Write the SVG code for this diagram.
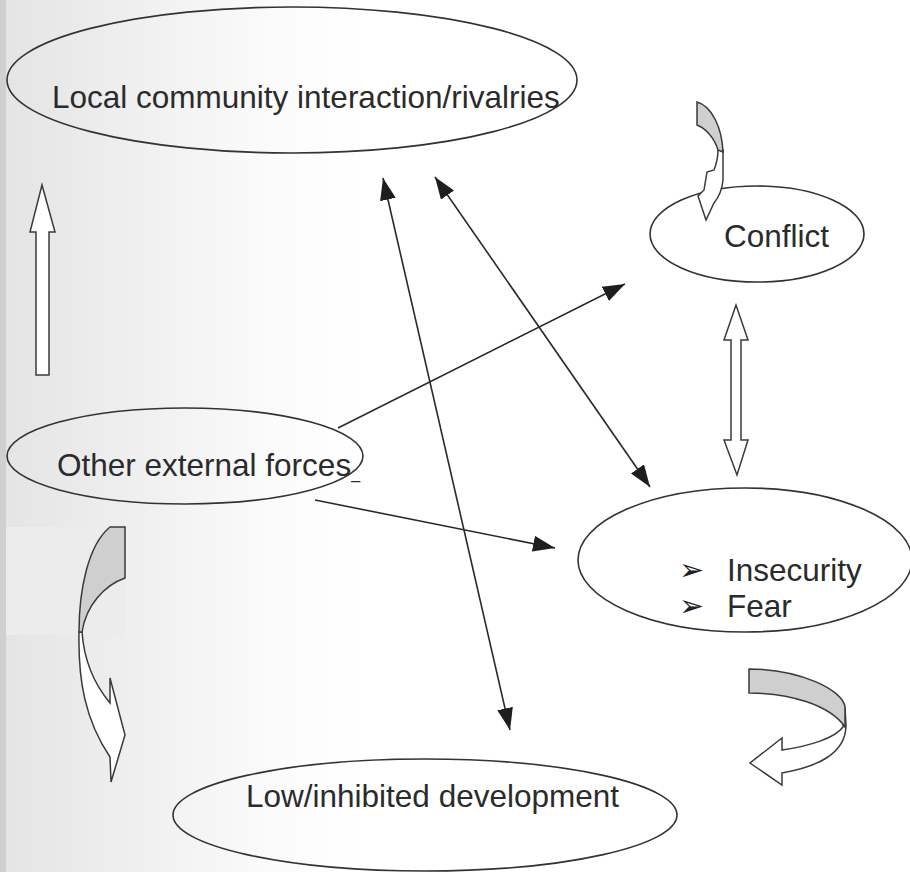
<svg xmlns="http://www.w3.org/2000/svg" width="910" height="872" viewBox="0 0 910 872">
<defs>
  <linearGradient id="bg" x1="0" y1="0" x2="1" y2="0">
    <stop offset="0" stop-color="#e4e4e4"/>
    <stop offset="0.12" stop-color="#ededed"/>
    <stop offset="0.30" stop-color="#fbfbfb"/>
    <stop offset="0.40" stop-color="#ffffff"/>
    <stop offset="1" stop-color="#ffffff"/>
  </linearGradient>
  <marker id="ah" viewBox="0 0 22 16" refX="22" refY="8" markerWidth="22" markerHeight="16" markerUnits="userSpaceOnUse" orient="auto-start-reverse">
    <path d="M0,0 L22,8 L0,16 z" fill="#1e1e1e"/>
  </marker>
  <style>
    .node { fill: #ffffff; fill-opacity: 0; stroke: #333333; stroke-width: 1.6; }
    .lbl { font-family: "Liberation Sans", Arial, sans-serif; font-size: 31.5px; fill: #2b2b2b; }
    .bul { font-family: "DejaVu Sans", sans-serif; font-size: 30px; fill: #222222; }
    .conn { stroke: #2a2a2a; stroke-width: 1.6; fill: none; }
    .blk { fill: #ffffff; stroke: #3a3a3a; stroke-width: 1.5; stroke-linejoin: miter; }
    .blkg { fill: #cfcfcf; stroke: #3a3a3a; stroke-width: 1.5; }
  </style>
</defs>

<g id="background">
  <rect x="0" y="0" width="910" height="872" fill="url(#bg)"/>
  <rect x="6" y="527" width="119" height="108" fill="#ececec"/>
  <rect x="0" y="0" width="6" height="872" fill="#d0d0d0"/>
</g>

<g id="node-local">
  <ellipse class="node" cx="292" cy="80" rx="285" ry="73"/>
  <text class="lbl" x="52" y="108">Local community interaction/rivalries</text>
</g>

<g id="node-conflict">
  <ellipse class="node" cx="757" cy="234" rx="107" ry="48"/>
  <text class="lbl" x="724" y="247">Conflict</text>
</g>

<g id="node-external">
  <ellipse class="node" cx="185" cy="456" rx="178" ry="48"/>
  <text class="lbl" x="57" y="476">Other external forces<tspan font-size="16" dy="3">_</tspan></text>
</g>

<g id="node-insecurity">
  <ellipse class="node" cx="745" cy="560" rx="167" ry="72"/>
  <text class="bul" x="679" y="580">➢</text>
  <text class="lbl" x="727" y="581">Insecurity</text>
  <text class="bul" x="679" y="616">➢</text>
  <text class="lbl" x="727" y="617">Fear</text>
</g>

<g id="node-development">
  <ellipse class="node" cx="425" cy="815" rx="252" ry="56"/>
  <text class="lbl" x="246" y="807">Low/inhibited development</text>
</g>

<g id="connectors">
  <line class="conn" x1="383" y1="178" x2="510" y2="730" marker-start="url(#ah)" marker-end="url(#ah)"/>
  <line class="conn" x1="435" y1="177" x2="650" y2="487" marker-start="url(#ah)" marker-end="url(#ah)"/>
  <line class="conn" x1="338" y1="428" x2="625" y2="284" marker-end="url(#ah)"/>
  <line class="conn" x1="315" y1="500" x2="555" y2="548" marker-end="url(#ah)"/>
</g>

<g id="block-arrows">
  <path class="blk" d="M36,375 L36,232 L30,232 L42,185 L55,232 L49,232 L49,375 Z"/>
  <path class="blk" d="M731,340 L724,340 L736,305 L748,340 L741,340 L741,440 L748,440 L737,475 L724,440 L731,440 Z"/>
  <path class="blk" d="M718,150 C718,158 716,165 714,170 L707,172 L704,190 L698,196 L706,220 L714,203 C718,198 722,192 723,180 L723,150 Z"/>
  <path class="blkg" d="M697,102 C712,106 722,128 723,152 L718,150 C714,137 705,128 697,125 Z"/>
  <path class="blk" d="M79,632 C78,680 85,720 110,757 L111,782 L125,735 L110,678 L110,703 C95,685 84,660 82,632 Z"/>
  <path class="blkg" d="M110,527 L125,527 L125,578 C105,585 86,605 82,632 L79,632 C79,590 88,545 110,527 Z"/>
  <path class="blk" d="M843,727 C835,738 810,746 782,750 L782,738 L750,763 L782,785 L782,773 C815,767 846,755 846,725 L845,707 Z"/>
  <path class="blkg" d="M749,669 C800,669 843,690 845,707 L845,727 C830,705 790,693 749,693 Z"/>
</g>
</svg>
